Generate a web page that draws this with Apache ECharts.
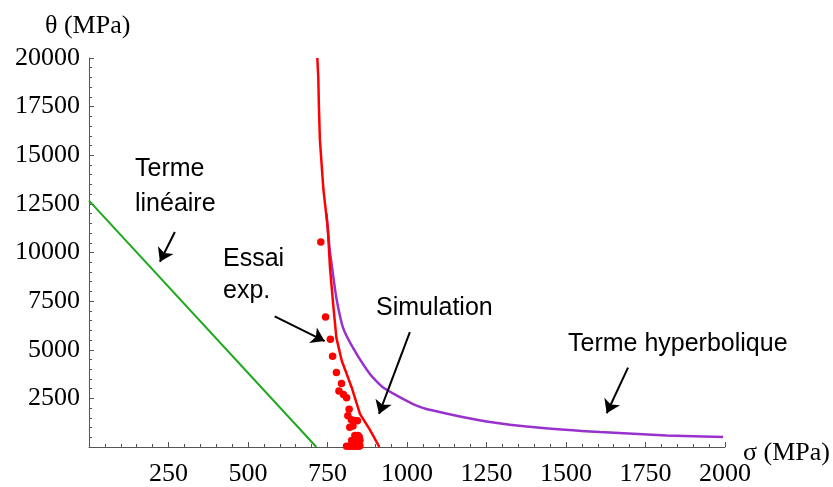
<!DOCTYPE html>
<html>
<head>
<meta charset="utf-8">
<script src="https://cdn.jsdelivr.net/npm/echarts@6/dist/echarts.min.js"></script>
<style>
html,body{margin:0;padding:0;background:#fff;}
#chart{width:833px;height:487px;}
</style>
</head>
<body>
<div id="chart"></div>
<script>
// ---- data (σ in MPa, θ in MPa) ----
const xTicks = [0, 250, 500, 750, 1000, 1250, 1500, 1750, 2000];
const yTicks = [0, 2500, 5000, 7500, 10000, 12500, 15000, 17500, 20000];

const linSigma = [0, 715];
const linTheta = [12668, 0];

const hypSigma = [747, 752, 758, 766, 778, 799, 833, 884, 925, 1019, 1082, 1250, 1418, 1607, 1816, 1994];
const hypTheta = [12000, 11000, 10000, 9031, 7653, 6122, 5015, 3740, 3061, 2209, 1872, 1311, 985, 765, 597, 510];

const simSigma = [718, 721, 723, 726, 737, 751, 758, 768, 778, 795, 810, 826, 852, 884, 913];
const simTheta = [20000, 19000, 17500, 15816, 13265, 11224, 9184, 7311, 5612, 4423, 3776, 3061, 1699, 867, 0];

const expSigma = [729, 744, 759, 766, 778, 794, 786, 800, 810, 818, 814, 825, 836, 844, 820, 830, 836, 846, 850, 826, 836, 847, 852, 810, 820, 830, 840, 848, 852];
const expTheta = [10546, 6684, 5536, 4668, 3827, 3265, 2883, 2704, 2526, 1939, 1607, 1403, 1362, 1352, 1020, 1082, 597, 597, 510, 332, 281, 281, 342, 36, 40, 40, 40, 40, 60];

// annotation arrows (data coordinates: start -> head)
const arrowLabels = ['Terme linéaire', 'Essai exp.', 'Simulation', 'Terme hyperbolique'];
const arrowFrom = [[270, 11056], [584, 6719], [1009, 5903], [1695, 4082]];
const arrowTo = [[223, 9526], [741, 5444], [912, 1699], [1628, 1735]];

const zip = (a, b) => a.map((v, i) => [v, b[i]]);

const chart = echarts.init(document.getElementById('chart'));
const serif = 'Liberation Serif';
const sans = 'Liberation Sans';
const axisColor = '#555';

function txt(text, left, baseline, font, size) {
  return {
    type: 'text', left: left, top: baseline - size * 0.86,
    style: { text: text, font: size + 'px "' + font + '"', fill: '#000' }
  };
}

chart.setOption({
  animation: false,
  grid: { left: 89, right: 108, top: 58, bottom: 37, containLabel: false },
  xAxis: {
    type: 'value', min: xTicks[0], max: xTicks[xTicks.length - 1], interval: 250,
    axisLine: { show: true, onZero: false, lineStyle: { color: axisColor, width: 1 } },
    axisTick: { show: true, inside: true, length: 5, lineStyle: { color: axisColor } },
    minorTick: { show: true, splitNumber: 5, length: 3, lineStyle: { color: axisColor } },
    splitLine: { show: false },
    axisLabel: {
      margin: 14, color: '#000', fontFamily: serif, fontSize: 26,
      formatter: v => (v === 0 ? '' : String(v))
    }
  },
  yAxis: {
    type: 'value', min: yTicks[0], max: yTicks[yTicks.length - 1], interval: 2500,
    axisLine: { show: true, onZero: false, lineStyle: { color: axisColor, width: 1 } },
    axisTick: { show: true, inside: true, length: 5, lineStyle: { color: axisColor } },
    minorTick: { show: true, splitNumber: 5, length: 3, lineStyle: { color: axisColor } },
    splitLine: { show: false },
    axisLabel: {
      margin: 9, color: '#000', fontFamily: serif, fontSize: 26,
      formatter: v => (v === 0 ? '' : String(v))
    }
  },
  series: [
    {
      name: 'Terme linéaire', type: 'line', data: zip(linSigma, linTheta),
      showSymbol: false, lineStyle: { color: '#1fa81f', width: 2 }, z: 2
    },
    {
      name: 'Terme hyperbolique', type: 'line', data: zip(hypSigma, hypTheta),
      showSymbol: false, smooth: 0.2,
      lineStyle: { color: '#9932cc', width: 2.5 }, z: 2
    },
    {
      name: 'Simulation', type: 'line', data: zip(simSigma, simTheta),
      showSymbol: false,
      lineStyle: { color: '#ff0000', width: 2.5 }, z: 3
    },
    {
      name: 'Essai exp.', type: 'scatter', data: zip(expSigma, expTheta),
      symbolSize: 7.5, itemStyle: { color: '#ff0000', opacity: 1 }, z: 4
    },
    {
      name: 'arrows', type: 'scatter', data: [], z: 5,
      markLine: {
        silent: true, symbol: ['none', 'arrow'], symbolSize: 13,
        label: { show: false },
        lineStyle: { color: '#000', width: 2, type: 'solid' },
        itemStyle: { color: '#000' },
        data: arrowLabels.map((n, i) => [{ coord: arrowFrom[i] }, { coord: arrowTo[i] }])
      }
    }
  ],
  graphic: [
    txt('θ (MPa)', 45, 36, serif, 26),
    txt('σ (MPa)', 743, 463, serif, 26),
    txt('Terme', 135, 178, sans, 25),
    txt('linéaire', 135, 213, sans, 25),
    txt('Essai', 223, 268, sans, 25),
    txt('exp.', 223, 300, sans, 25),
    txt('Simulation', 376, 317, sans, 25),
    txt('Terme hyperbolique', 568, 353, sans, 25)
  ]
});
</script>
</body>
</html>
